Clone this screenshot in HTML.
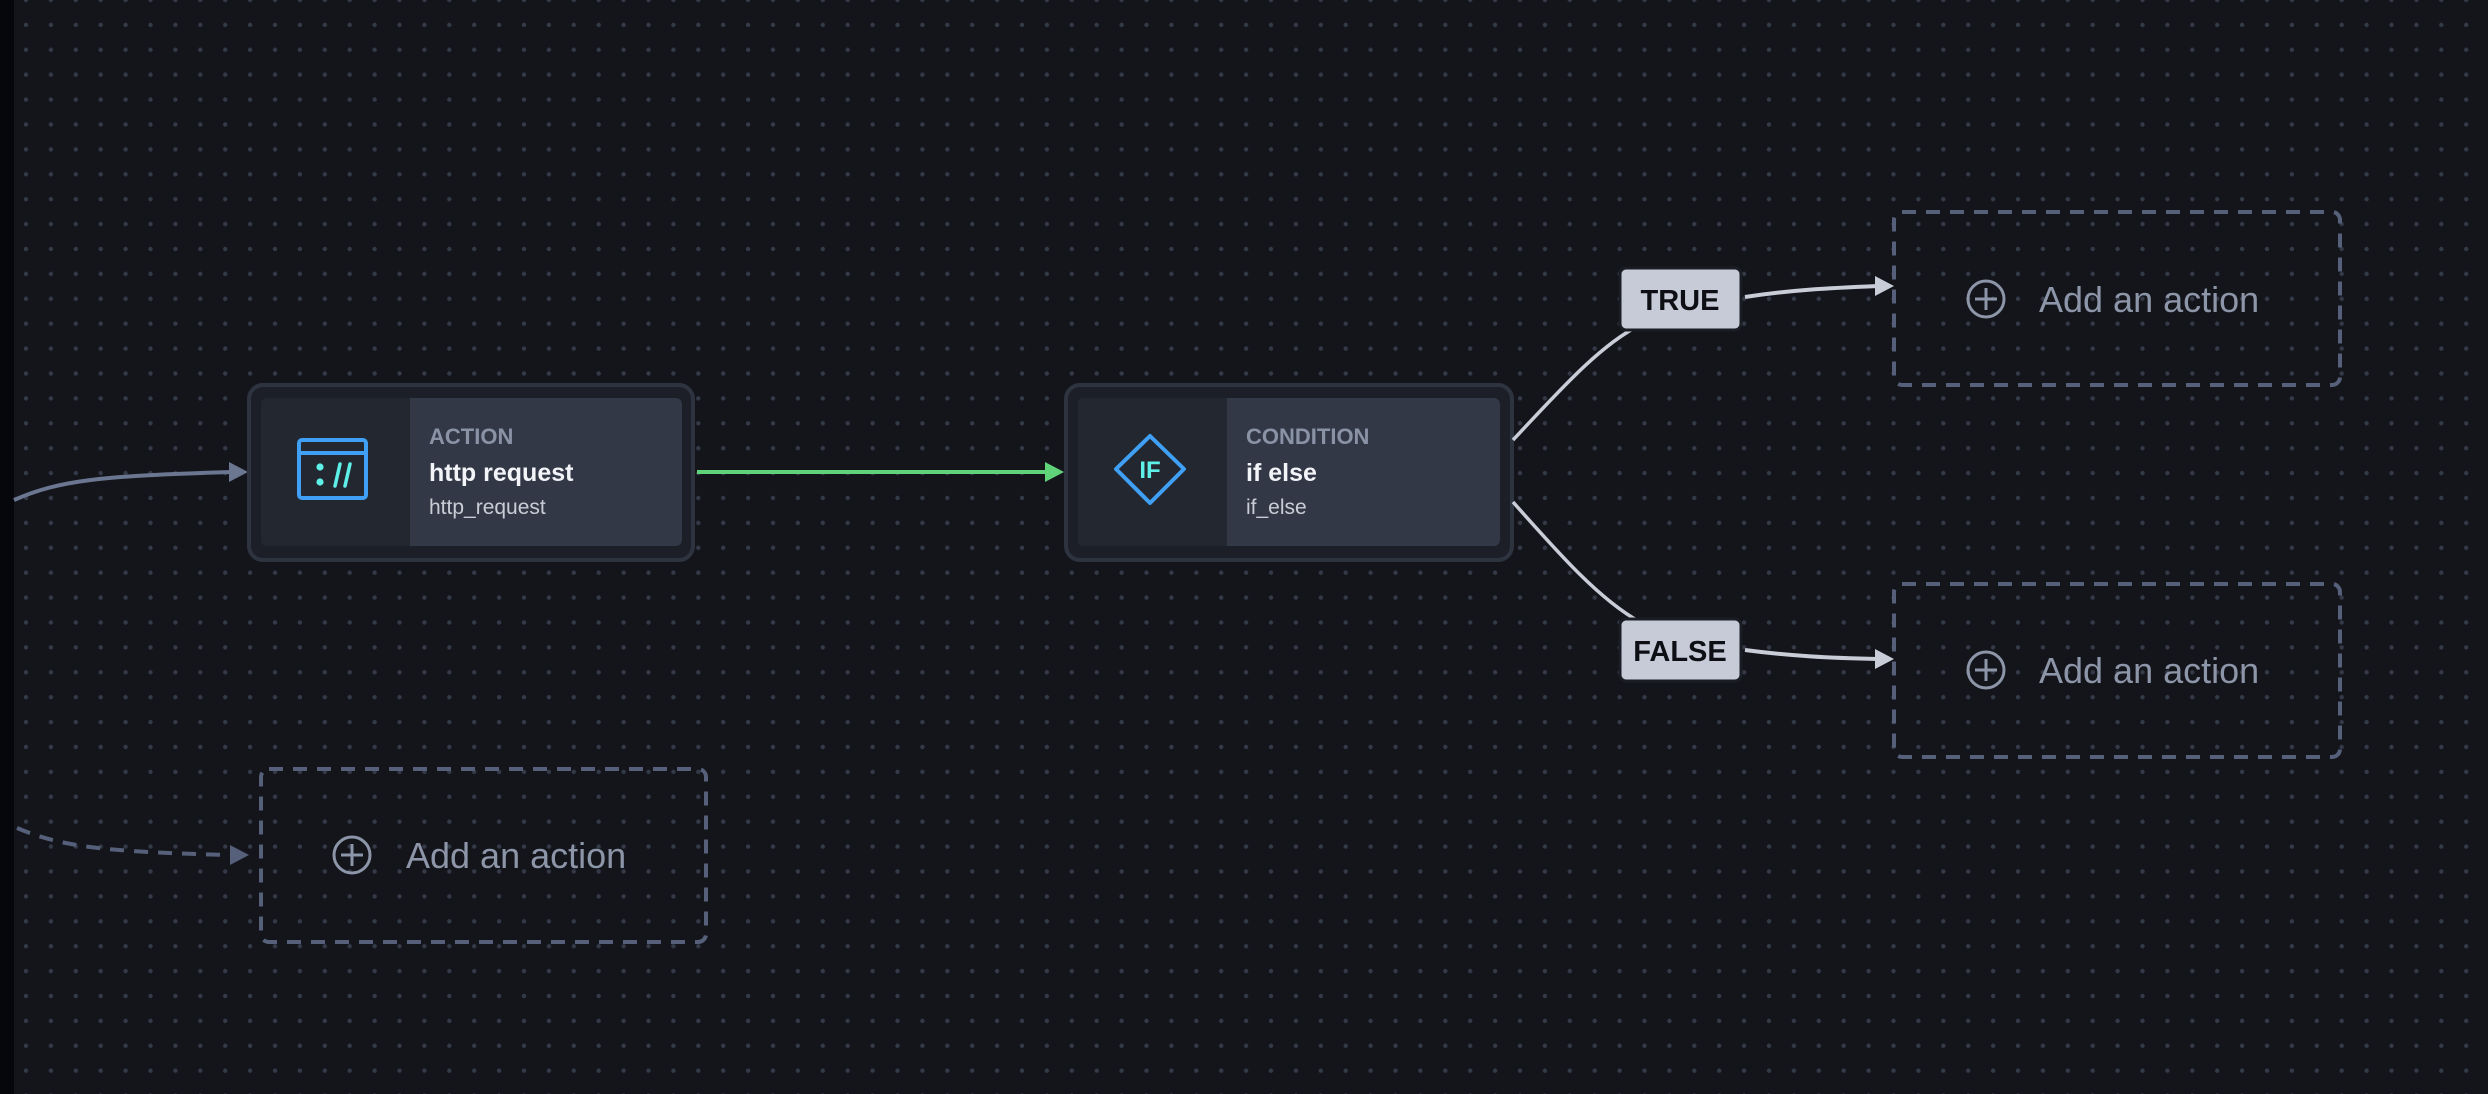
<!DOCTYPE html>
<html><head><meta charset="utf-8"><style>
html,body{margin:0;padding:0;width:2488px;height:1094px;overflow:hidden;background:#13151b;font-family:"Liberation Sans",sans-serif}
</style></head><body>
<svg width="2488" height="1094" viewBox="0 0 2488 1094" xmlns="http://www.w3.org/2000/svg" style="position:absolute;left:0;top:0">
<defs>
<pattern id="dots" x="14" y="-12.45" width="24.9" height="24.9" patternUnits="userSpaceOnUse">
<circle cx="12" cy="12.45" r="2.2" fill="#353a48"/>
</pattern>
</defs>
<rect width="2488" height="1094" fill="#13151b"/>
<rect width="2488" height="1094" fill="url(#dots)"/>
<rect width="14" height="1094" fill="#06070b"/>

<!-- incoming solid -->
<path d="M14 500 C 60 480, 100 476, 232 472" fill="none" stroke="#6b7690" stroke-width="4"/>
<polygon points="248,472 229,462 229,482" fill="#6b7690"/>
<!-- incoming dashed -->
<path d="M17 828 C 60 846, 100 852, 232 855" fill="none" stroke="#56607a" stroke-width="4" stroke-dasharray="14,10"/>
<polygon points="249,855 230,845 230,865" fill="#56607a"/>

<!-- Action node -->
<rect x="249" y="385" width="444" height="175" rx="14" fill="#1c1f27" stroke="#2e3340" stroke-width="4"/>
<rect x="261" y="398" width="421" height="148" rx="6" fill="#333846"/>
<path d="M267 398 H410 V546 H267 a6 6 0 0 1 -6 -6 V404 a6 6 0 0 1 6 -6z" fill="#232730"/>
<rect x="299" y="440" width="67" height="58" rx="3" fill="none" stroke="#3fa0f5" stroke-width="4"/>
<line x1="299" y1="453" x2="366" y2="453" stroke="#3fa0f5" stroke-width="4"/>
<circle cx="320" cy="467" r="3.6" fill="#5ef0e8"/>
<circle cx="320" cy="482" r="3.6" fill="#5ef0e8"/>
<line x1="335" y1="486" x2="340" y2="464" stroke="#5ef0e8" stroke-width="3.5" stroke-linecap="round"/>
<line x1="345" y1="486" x2="350" y2="464" stroke="#5ef0e8" stroke-width="3.5" stroke-linecap="round"/>
<text x="429" y="444" font-size="22" font-weight="bold" fill="#8a92a5">ACTION</text>
<text x="429" y="481" font-size="25" font-weight="bold" fill="#f2f4f8">http request</text>
<text x="429" y="514" font-size="21" fill="#c9cdd6">http_request</text>

<!-- green connector -->
<line x1="697" y1="472" x2="1048" y2="472" stroke="#5fd27a" stroke-width="4"/>
<polygon points="1064,472 1045,462 1045,482" fill="#5fd27a"/>

<!-- Condition node -->
<rect x="1066" y="385" width="446" height="175" rx="14" fill="#1c1f27" stroke="#2e3340" stroke-width="4"/>
<rect x="1078" y="398" width="422" height="148" rx="6" fill="#333846"/>
<path d="M1084 398 H1227 V546 H1084 a6 6 0 0 1 -6 -6 V404 a6 6 0 0 1 6 -6z" fill="#232730"/>
<polygon points="1150,436 1184,469 1150,503 1116,469" fill="none" stroke="#3fa0f5" stroke-width="4" stroke-linejoin="round"/>
<text x="1150" y="478" font-size="24" font-weight="bold" fill="#5ef0e8" text-anchor="middle">IF</text>
<text x="1246" y="444" font-size="22" font-weight="bold" fill="#8a92a5">CONDITION</text>
<text x="1246" y="481" font-size="25" font-weight="bold" fill="#f2f4f8">if else</text>
<text x="1246" y="514" font-size="21" fill="#c9cdd6">if_else</text>

<!-- branches -->
<path d="M1513 440 C 1560 390, 1600 345, 1640 325" fill="none" stroke="#c9cdd8" stroke-width="3.5"/>
<path d="M1513 502 C 1560 555, 1600 600, 1640 622" fill="none" stroke="#c9cdd8" stroke-width="3.5"/>
<path d="M1745 297 C 1790 290, 1830 288, 1878 286" fill="none" stroke="#c9cdd8" stroke-width="4"/>
<polygon points="1894,286 1875,276 1875,296" fill="#c9cdd8"/>
<path d="M1745 650 C 1790 656, 1830 658, 1878 659" fill="none" stroke="#c9cdd8" stroke-width="4"/>
<polygon points="1894,659 1875,649 1875,669" fill="#c9cdd8"/>

<rect x="1620" y="268" width="121" height="62" rx="6" fill="#c7cbd8" stroke="#1a1d24" stroke-width="3"/>
<text x="1680" y="310" font-size="29" font-weight="bold" fill="#0d0f14" text-anchor="middle">TRUE</text>
<rect x="1620" y="619" width="121" height="62" rx="6" fill="#c7cbd8" stroke="#1a1d24" stroke-width="3"/>
<text x="1680" y="661" font-size="29" font-weight="bold" fill="#0d0f14" text-anchor="middle">FALSE</text>

<!-- Add action boxes -->
<g fill="none" stroke="#56607a" stroke-width="4" stroke-dasharray="14,10">
<rect x="1894" y="212" width="446" height="173" rx="8"/>
<rect x="1894" y="584" width="446" height="173" rx="8"/>
<rect x="261" y="769" width="445" height="173" rx="8"/>
</g>
<g fill="none" stroke="#8d95a8" stroke-width="3">
<circle cx="1986" cy="299" r="18"/><line x1="1986" y1="288" x2="1986" y2="310"/><line x1="1975" y1="299" x2="1997" y2="299"/>
<circle cx="1986" cy="670" r="18"/><line x1="1986" y1="659" x2="1986" y2="681"/><line x1="1975" y1="670" x2="1997" y2="670"/>
<circle cx="352" cy="855" r="18"/><line x1="352" y1="844" x2="352" y2="866"/><line x1="341" y1="855" x2="363" y2="855"/>
</g>
<g font-size="36" fill="#8d95a8">
<text x="2039" y="312">Add an action</text>
<text x="2039" y="683">Add an action</text>
<text x="406" y="868">Add an action</text>
</g>
</svg>
</body></html>
